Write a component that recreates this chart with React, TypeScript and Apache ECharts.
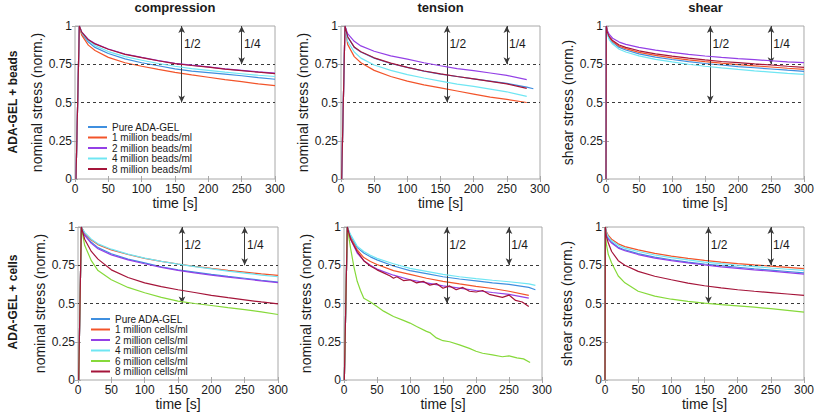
import React, { useEffect, useRef } from "react";
import * as echarts from "echarts";

const FONT = "'Liberation Sans', Arial, Helvetica, sans-serif";

// ---------- texts ----------
const panelTitles = ["compression", "tension", "shear"];
const rowLabels = ["ADA-GEL + beads", "ADA-GEL + cells"];
const yAxisNames = ["nominal stress (norm.)", "nominal stress (norm.)", "shear stress (norm.)"];
const xAxisName = "time [s]";
const xTickValues = [0, 50, 100, 150, 200, 250, 300];
const yTickValues = [0, 0.25, 0.5, 0.75, 1];
const refLevels = [0.5, 0.75];
const halfLabel = "1/2";
const quarterLabel = "1/4";

const beadNames = ["Pure ADA-GEL", "1 million beads/ml", "2 million beads/ml", "4 million beads/ml", "8 million beads/ml"];
const cellNames = ["Pure ADA-GEL", "1 million cells/ml", "2 million cells/ml", "4 million cells/ml", "6 million cells/ml", "8 million cells/ml"];

// ---------- data: ADA-GEL + beads ----------
const tCompBeads = [1.5, 6.5, 10, 20, 30, 50, 75, 100, 125, 150, 175, 200, 225, 250, 275, 300];
const compBeadsPure = [0, 1, 0.95, 0.895, 0.86, 0.82, 0.785, 0.76, 0.74, 0.72, 0.705, 0.695, 0.685, 0.675, 0.663, 0.652];
const compBeads1 = [0, 1, 0.94, 0.875, 0.84, 0.795, 0.76, 0.737, 0.716, 0.697, 0.68, 0.665, 0.65, 0.636, 0.622, 0.61];
const compBeads2 = [0, 1, 0.962, 0.912, 0.885, 0.85, 0.817, 0.795, 0.774, 0.756, 0.744, 0.733, 0.72, 0.71, 0.7, 0.692];
const compBeads4 = [0, 1, 0.955, 0.905, 0.872, 0.833, 0.8, 0.776, 0.755, 0.737, 0.722, 0.71, 0.698, 0.688, 0.678, 0.67];
const compBeads8 = [0, 1, 0.96, 0.91, 0.883, 0.848, 0.815, 0.793, 0.773, 0.754, 0.742, 0.731, 0.718, 0.708, 0.698, 0.689];

const tTensBeads = [1, 6, 10, 20, 30, 50, 75, 100, 125, 150, 175, 200, 225, 250, 280, 290];
const tensBeadsPure = [0, 1, 0.93, 0.86, 0.83, 0.79, 0.755, 0.73, 0.705, 0.685, 0.67, 0.655, 0.64, 0.625, 0.6, 0.59];
const tensBeads1 = [0, 1, 0.88, 0.8, 0.76, 0.71, 0.67, 0.64, 0.615, 0.595, 0.575, 0.555, 0.535, 0.52, 0.5, null];
const tensBeads2 = [0, 1, 0.95, 0.9, 0.87, 0.835, 0.805, 0.783, 0.76, 0.74, 0.722, 0.708, 0.693, 0.677, 0.65, null];
const tensBeads4 = [0, 1, 0.9, 0.83, 0.79, 0.745, 0.71, 0.682, 0.66, 0.64, 0.62, 0.605, 0.588, 0.57, 0.54, null];
const tensBeads8 = [0, 1, 0.93, 0.862, 0.832, 0.792, 0.757, 0.73, 0.706, 0.687, 0.67, 0.654, 0.638, 0.622, 0.592, null];

const tShear = [0, 0.5, 2, 5, 10, 20, 30, 50, 75, 100, 125, 150, 175, 200, 225, 250, 275, 300];
const shearBeadsPure = [0, 1, 0.95, 0.92, 0.893, 0.86, 0.843, 0.818, 0.797, 0.781, 0.767, 0.755, 0.745, 0.735, 0.727, 0.719, 0.711, 0.704];
const shearBeads1 = [0, 1, 0.955, 0.925, 0.9, 0.868, 0.852, 0.828, 0.808, 0.792, 0.779, 0.767, 0.757, 0.748, 0.74, 0.732, 0.724, 0.717];
const shearBeads2 = [0, 1, 0.97, 0.945, 0.92, 0.895, 0.88, 0.86, 0.842, 0.828, 0.815, 0.804, 0.795, 0.787, 0.78, 0.773, 0.766, 0.76];
const shearBeads4 = [0, 1, 0.945, 0.91, 0.882, 0.848, 0.83, 0.805, 0.782, 0.765, 0.75, 0.737, 0.726, 0.716, 0.707, 0.699, 0.691, 0.684];
const shearBeads8 = [0, 1, 0.96, 0.93, 0.905, 0.876, 0.86, 0.838, 0.818, 0.803, 0.79, 0.778, 0.768, 0.76, 0.752, 0.745, 0.737, 0.73];

// ---------- data: ADA-GEL + cells ----------
const tCompCells = [1, 5, 10, 20, 30, 50, 75, 100, 125, 150, 175, 200, 225, 250, 275, 300];
const compCellsPure = [0, 1, 0.95, 0.9, 0.865, 0.825, 0.79, 0.765, 0.74, 0.72, 0.705, 0.69, 0.677, 0.665, 0.652, 0.64];
const compCells1 = [0, 1, 0.96, 0.915, 0.885, 0.85, 0.82, 0.795, 0.775, 0.758, 0.743, 0.729, 0.716, 0.705, 0.694, 0.684];
const compCells2 = [0, 1, 0.945, 0.893, 0.858, 0.818, 0.785, 0.76, 0.736, 0.716, 0.7, 0.686, 0.673, 0.66, 0.648, 0.637];
const compCells4 = [0, 1, 0.965, 0.92, 0.89, 0.855, 0.823, 0.797, 0.775, 0.757, 0.741, 0.726, 0.711, 0.698, 0.686, 0.675];
const compCells6 = [0, 1, 0.88, 0.78, 0.715, 0.655, 0.605, 0.57, 0.54, 0.515, 0.5, 0.487, 0.473, 0.46, 0.445, 0.428];
const compCells8 = [0, 1, 0.92, 0.84, 0.79, 0.72, 0.67, 0.635, 0.61, 0.59, 0.572, 0.553, 0.538, 0.524, 0.51, 0.498];

const tTensCells = [0.5, 5, 10, 20, 30, 40, 50, 75, 100, 125, 150, 175, 200, 225, 250, 280, 290];
const tensCellsPure = [0, 1, 0.94, 0.865, 0.83, 0.805, 0.785, 0.745, 0.715, 0.695, 0.675, 0.66, 0.648, 0.635, 0.625, 0.605, 0.59];
const tensCells1 = [0, 1, 0.93, 0.85, 0.8, 0.775, 0.755, 0.715, 0.69, 0.665, 0.645, 0.628, 0.612, 0.598, 0.58, 0.553, null];
const tensCells2 = [0, 1, 0.92, 0.83, 0.78, 0.75, 0.725, 0.685, 0.655, 0.635, 0.615, 0.6, 0.585, 0.572, 0.56, 0.535, null];
const tensCells4 = [0, 1, 0.95, 0.875, 0.84, 0.815, 0.795, 0.76, 0.73, 0.71, 0.69, 0.675, 0.663, 0.652, 0.642, 0.628, 0.618];
const tTensCells6 = [0.5, 5, 10, 15, 20, 25, 30, 40, 50, 60, 75, 90, 100, 110, 125, 130, 140, 150, 160, 175, 190, 200, 210, 225, 240, 250, 262, 272, 282];
const tensCells6 = [0, 1, 0.86, 0.74, 0.645, 0.585, 0.535, 0.51, 0.48, 0.45, 0.415, 0.39, 0.372, 0.35, 0.318, 0.31, 0.275, 0.257, 0.25, 0.23, 0.207, 0.188, 0.175, 0.164, 0.152, 0.158, 0.145, 0.138, 0.115];
const tTensCells8 = [0.5, 5, 10, 20, 30, 40, 50, 60, 70, 75, 80, 90, 100, 110, 120, 130, 140, 150, 160, 170, 180, 190, 200, 210, 220, 230, 240, 250, 260, 270, 280];
const tensCells8 = [0, 1, 0.92, 0.84, 0.78, 0.745, 0.72, 0.7, 0.68, 0.665, 0.675, 0.65, 0.655, 0.635, 0.645, 0.62, 0.63, 0.6, 0.615, 0.59, 0.605, 0.58, 0.575, 0.585, 0.56, 0.55, 0.54, 0.555, 0.52, 0.51, 0.48];

const shearCellsPure = [0, 1, 0.955, 0.925, 0.9, 0.868, 0.85, 0.826, 0.803, 0.786, 0.771, 0.758, 0.747, 0.737, 0.727, 0.718, 0.709, 0.7];
const shearCells1 = [0, 1, 0.97, 0.945, 0.92, 0.89, 0.872, 0.85, 0.828, 0.81, 0.795, 0.782, 0.771, 0.761, 0.752, 0.744, 0.736, 0.728];
const shearCells2 = [0, 1, 0.95, 0.92, 0.895, 0.862, 0.845, 0.82, 0.797, 0.78, 0.765, 0.752, 0.74, 0.73, 0.72, 0.711, 0.702, 0.692];
const shearCells4 = [0, 1, 0.965, 0.935, 0.91, 0.88, 0.862, 0.84, 0.817, 0.8, 0.785, 0.771, 0.76, 0.75, 0.741, 0.732, 0.724, 0.716];
const shearCells6 = [0, 1, 0.89, 0.82, 0.765, 0.68, 0.635, 0.58, 0.548, 0.528, 0.514, 0.502, 0.493, 0.485, 0.476, 0.466, 0.455, 0.444];
const shearCells8 = [0, 1, 0.94, 0.895, 0.84, 0.78, 0.75, 0.71, 0.678, 0.655, 0.633, 0.616, 0.602, 0.59, 0.58, 0.571, 0.562, 0.553];

// ---------- styles ----------
const COL_PURE = "#3f8fdf";
const COL_1 = "#f2542a";
const COL_2 = "#9440e6";
const COL_4 = "#6fe6f3";
const COL_6 = "#86d93a";
const COL_8 = "#a5153a";
const beadColors = [COL_PURE, COL_1, COL_2, COL_4, COL_8];
const cellColors = [COL_PURE, COL_1, COL_2, COL_4, COL_6, COL_8];

const gridRects = [
  [75, 26, 200, 153],
  [341, 26, 199, 153],
  [606, 26, 199, 153],
  [78, 227, 200, 153],
  [344, 227, 198, 153],
  [605, 227, 200, 153],
];

type Curve = { t: number[]; v: (number | null)[] };
type Panel = { names: string[]; colors: string[]; curves: Curve[]; arrowX: number };

const panels: Panel[] = [
  {
    names: beadNames, colors: beadColors, arrowX: 160,
    curves: [
      { t: tCompBeads, v: compBeadsPure }, { t: tCompBeads, v: compBeads1 }, { t: tCompBeads, v: compBeads2 },
      { t: tCompBeads, v: compBeads4 }, { t: tCompBeads, v: compBeads8 },
    ],
  },
  {
    names: beadNames, colors: beadColors, arrowX: 160,
    curves: [
      { t: tTensBeads, v: tensBeadsPure }, { t: tTensBeads, v: tensBeads1 }, { t: tTensBeads, v: tensBeads2 },
      { t: tTensBeads, v: tensBeads4 }, { t: tTensBeads, v: tensBeads8 },
    ],
  },
  {
    names: beadNames, colors: beadColors, arrowX: 158,
    curves: [
      { t: tShear, v: shearBeadsPure }, { t: tShear, v: shearBeads1 }, { t: tShear, v: shearBeads2 },
      { t: tShear, v: shearBeads4 }, { t: tShear, v: shearBeads8 },
    ],
  },
  {
    names: cellNames, colors: cellColors, arrowX: 156,
    curves: [
      { t: tCompCells, v: compCellsPure }, { t: tCompCells, v: compCells1 }, { t: tCompCells, v: compCells2 },
      { t: tCompCells, v: compCells4 }, { t: tCompCells, v: compCells6 }, { t: tCompCells, v: compCells8 },
    ],
  },
  {
    names: cellNames, colors: cellColors, arrowX: 156,
    curves: [
      { t: tTensCells, v: tensCellsPure }, { t: tTensCells, v: tensCells1 }, { t: tTensCells, v: tensCells2 },
      { t: tTensCells, v: tensCells4 }, { t: tTensCells6, v: tensCells6 }, { t: tTensCells8, v: tensCells8 },
    ],
  },
  {
    names: cellNames, colors: cellColors, arrowX: 156,
    curves: [
      { t: tShear, v: shearCellsPure }, { t: tShear, v: shearCells1 }, { t: tShear, v: shearCells2 },
      { t: tShear, v: shearCells4 }, { t: tShear, v: shearCells6 }, { t: tShear, v: shearCells8 },
    ],
  },
];

const pairs = (t: number[], v: (number | null)[]) =>
  t.map((x, i) => [x, v[i]]).filter((p) => p[1] !== null && p[1] !== undefined);

const AXIS_GRAY = "#a8a8a8";
const TEXT = "#1a1a1a";
const REF = "#3a3a3a";

function buildOption() {
  const xMin = xTickValues[0];
  const xMax = xTickValues[xTickValues.length - 1];
  const xInt = xTickValues[1] - xTickValues[0];
  const yMin = yTickValues[0];
  const yMax = yTickValues[yTickValues.length - 1];
  const yInt = yTickValues[1] - yTickValues[0];

  const grid: any[] = [];
  const xAxis: any[] = [];
  const yAxis: any[] = [];
  const series: any[] = [];

  panels.forEach((p, i) => {
    const [l, t, w, h] = gridRects[i];
    const col = i % 3;
    grid.push({ left: l, top: t, width: w, height: h, show: true, borderColor: AXIS_GRAY, borderWidth: 1, backgroundColor: "#fff" });
    const tick = { show: true, inside: true, length: 3, lineStyle: { color: AXIS_GRAY } };
    xAxis.push({
      type: "value", gridIndex: i, min: xMin, max: xMax, interval: xInt, position: "bottom",
      name: xAxisName, nameLocation: "middle", nameGap: 15,
      nameTextStyle: { fontFamily: FONT, fontSize: 14, color: TEXT },
      axisLine: { show: false }, axisTick: tick, splitLine: { show: false },
      axisLabel: { fontFamily: FONT, fontSize: 12, color: TEXT, margin: 4 },
    });
    yAxis.push({
      type: "value", gridIndex: i, min: yMin, max: yMax, interval: yInt, position: "left",
      name: yAxisNames[col], nameLocation: "middle", nameGap: 31,
      nameTextStyle: { fontFamily: FONT, fontSize: 14, color: TEXT },
      axisLine: { show: false }, axisTick: tick, splitLine: { show: false },
      axisLabel: { fontFamily: FONT, fontSize: 12, color: TEXT, margin: 3 },
    });
  });
  panels.forEach((p, i) => {
    const tick = { show: true, inside: true, length: 3, lineStyle: { color: AXIS_GRAY } };
    xAxis.push({
      type: "value", gridIndex: i, min: xMin, max: xMax, interval: xInt, position: "top",
      axisLine: { show: false }, axisTick: tick, splitLine: { show: false }, axisLabel: { show: false },
    });
    yAxis.push({
      type: "value", gridIndex: i, min: yMin, max: yMax, interval: yInt, position: "right",
      axisLine: { show: false }, axisTick: tick, splitLine: { show: false }, axisLabel: { show: false },
    });
  });

  panels.forEach((p, i) => {
    const ax = p.arrowX;
    p.curves.forEach((c, k) => {
      const s: any = {
        type: "line", name: p.names[k], xAxisIndex: i, yAxisIndex: i,
        data: pairs(c.t, c.v), symbol: "none", showSymbol: false, clip: true,
        lineStyle: { color: p.colors[k], width: 1.2 }, itemStyle: { color: p.colors[k] },
        z: 3 + k,
      };
      if (k === 0) {
        s.markLine = {
          silent: true, symbol: "none", animation: false,
          label: { show: false },
          lineStyle: { color: REF, type: [3, 3], width: 1 },
          data: refLevels.map((y) => ({ yAxis: y })),
        };
      }
      if (k === 1) {
        s.markLine = {
          silent: true, symbol: ["arrow", "arrow"], symbolSize: [5, 7], animation: false,
          label: { show: false },
          lineStyle: { color: REF, type: "solid", width: 1 },
          data: [
            [{ coord: [ax, yMax] }, { coord: [ax, refLevels[0]] }],
            [{ coord: [250, yMax] }, { coord: [250, refLevels[1]] }],
          ],
        };
      }
      if (k === 2) {
        s.markPoint = {
          silent: true, symbol: "rect", symbolSize: 1, animation: false,
          itemStyle: { color: "rgba(0,0,0,0)" },
          label: { show: true, position: "inside", formatter: "{b}", fontFamily: FONT, fontSize: 12, color: TEXT },
          data: [
            { name: halfLabel, coord: [ax + 16, 0.885] },
            { name: quarterLabel, coord: [266, 0.885] },
          ],
        };
      }
      series.push(s);
    });
  });

  const legendBase = {
    orient: "vertical", icon: "rect", itemHeight: 2, itemGap: 0.5, itemWidth: 19,
    selectedMode: false,
    textStyle: { fontFamily: FONT, fontSize: 10, color: TEXT, lineHeight: 10 },
  };

  const graphic: any[] = [];
  const centers = [0, 1, 2].map((c) => gridRects[c][0] + gridRects[c][2] / 2);
  panelTitles.forEach((txt, c) => {
    graphic.push({
      type: "text", x: centers[c], y: 1,
      style: { text: txt, fontFamily: FONT, fontSize: 13, fontWeight: "bold", fill: TEXT, textAlign: "center", textVerticalAlign: "top" },
    });
  });
  const rowCenters = [102, 302];
  rowLabels.forEach((txt, r) => {
    graphic.push({
      type: "text", x: 13, y: rowCenters[r], rotation: Math.PI / 2,
      style: { text: txt, fontFamily: FONT, fontSize: 12, fontWeight: "bold", fill: TEXT, textAlign: "center", textVerticalAlign: "middle" },
    });
  });

  return {
    animation: false,
    backgroundColor: "#ffffff",
    grid,
    xAxis,
    yAxis,
    series,
    legend: [
      { ...legendBase, data: beadNames, left: 83, top: 117 },
      { ...legendBase, data: cellNames, left: 86, top: 309 },
    ],
    graphic,
  };
}

export default function App() {
  const ref = useRef<HTMLDivElement>(null);
  useEffect(() => {
    if (!ref.current) return;
    const chart = echarts.init(ref.current, null, { renderer: "svg" });
    chart.setOption(buildOption() as any);
    return () => chart.dispose();
  }, []);
  return (
    <div
      ref={ref}
      style={{ position: "fixed", left: 0, top: 0, width: 817, height: 418, background: "#fff" }}
    />
  );
}
